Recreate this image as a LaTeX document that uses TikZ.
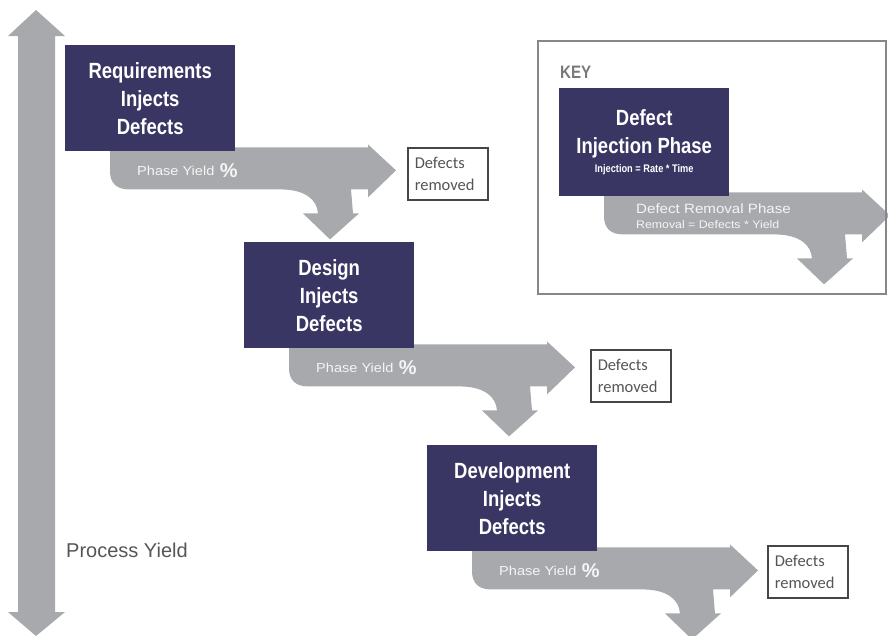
\documentclass[tikz,border=0pt]{standalone}
\usepackage{fontspec}
\setmainfont{Liberation Sans}
\newfontfamily\condfont[FakeStretch=0.84]{Liberation Sans}
\newfontfamily\widefont[FakeStretch=1.12]{Liberation Sans}
\newfontfamily\calfont{Carlito}
\definecolor{navy}{RGB}{58,54,100}
\definecolor{arrowgray}{RGB}{168,169,172}
\definecolor{textgray}{RGB}{85,85,85}
\definecolor{boxgray}{RGB}{70,70,70}
\definecolor{framegray}{RGB}{135,135,135}
\definecolor{bandtext}{RGB}{245,245,245}
\pgfdeclarelayer{bg}
\pgfsetlayers{bg,main}
\newcommand\yieldshape[1]{%
  \fill[arrowgray, shift={(#1)}] (45,-4) -- (303,-4) -- (303,-7) -- (331,19) -- (303,46) -- (303,38)
    -- (286,38) -- (288,62) -- (294,62) -- (265,88) -- (238,62) -- (253,62)
    .. controls (252,48) and (240,38) .. (215,38) -- (64,38)
    .. controls (52,38) and (45,32) .. (45,20) -- cycle;}
\begin{document}
\begin{tikzpicture}[x=1pt,y=-1pt,
  phase/.style={fill=navy, text=white, minimum width=170pt, minimum height=106pt, inner sep=0pt,
    anchor=north west, align=center, font=\condfont\bfseries\fontsize{22}{28}\selectfont},
  removed/.style={draw=boxgray, line width=1.5pt, fill=white, minimum width=80pt, minimum height=52pt,
    anchor=north west, align=left, inner sep=0pt, text width=66pt,
    font=\calfont\fontsize{16.5}{22}\selectfont, text=textgray},
  yieldtxt/.style={text=bandtext, anchor=west, inner sep=0pt, font=\widefont\fontsize{13}{15}\selectfont},
  pct/.style={text=bandtext, anchor=west, inner sep=0pt, font=\bfseries\fontsize{20}{20}\selectfont}
]
\useasboundingbox (0,0) rectangle (888,635);

% process yield double arrow
\fill[arrowgray] (36,10) -- (65,36) -- (55,36) -- (55,612) -- (65,612) -- (36,636)
  -- (8,612) -- (18,612) -- (18,36) -- (8,36) -- cycle;
\node[anchor=west, inner sep=0pt, text=textgray, font=\fontsize{20}{24}\selectfont] (py) at (66,550) {Process Yield};

% key frame
\draw[framegray, line width=2pt] (538,41) rectangle (886,294);
\node[anchor=west, inner sep=0pt, text=framegray!90!black, font=\condfont\bfseries\fontsize{18}{20}\selectfont] (key) at (560,72) {KEY};

% phase boxes
\node[phase] (b1) at (65,45) {Requirements\\Injects\\Defects};
\node[phase] (b2) at (244,242) {Design\\Injects\\Defects};
\node[phase] (b3) at (427,445) {Development\\Injects\\Defects};
\node[phase, minimum height=108pt] (kb) at (559,88) {Defect\\Injection Phase\\[-9pt]{\fontsize{11}{12}\selectfont Injection = Rate * Time}};

% yield arrows
\begin{pgfonlayer}{bg}
\yieldshape{b1.south west}
\yieldshape{b2.south west}
\yieldshape{b3.south west}
\yieldshape{kb.south west}
\end{pgfonlayer}

\node[yieldtxt] (y1) at ([shift={(72,19)}]b1.south west) {Phase Yield};
\node[pct] (p1) at ([xshift=5pt]y1.east) {\%};
\node[yieldtxt] (y2) at ([shift={(72,19)}]b2.south west) {Phase Yield};
\node[pct] (p2) at ([xshift=5pt]y2.east) {\%};
\node[yieldtxt] (y3) at ([shift={(72,19)}]b3.south west) {Phase Yield};
\node[pct] (p3) at ([xshift=5pt]y3.east) {\%};

\node[yieldtxt, font=\widefont\fontsize{13.5}{15}\selectfont] (kr1) at ([shift={(77,12)}]kb.south west) {Defect Removal Phase};
\node[yieldtxt, font=\widefont\fontsize{11}{12}\selectfont] (kr2) at ([shift={(77,28)}]kb.south west) {Removal = Defects * Yield};

% defects removed boxes
\node[removed] (r1) at (407,147) {Defects\\removed};
\node[removed] (r2) at (590,349) {Defects\\removed};
\node[removed] (r3) at (767,545) {Defects\\removed};
\end{tikzpicture}
\end{document}
